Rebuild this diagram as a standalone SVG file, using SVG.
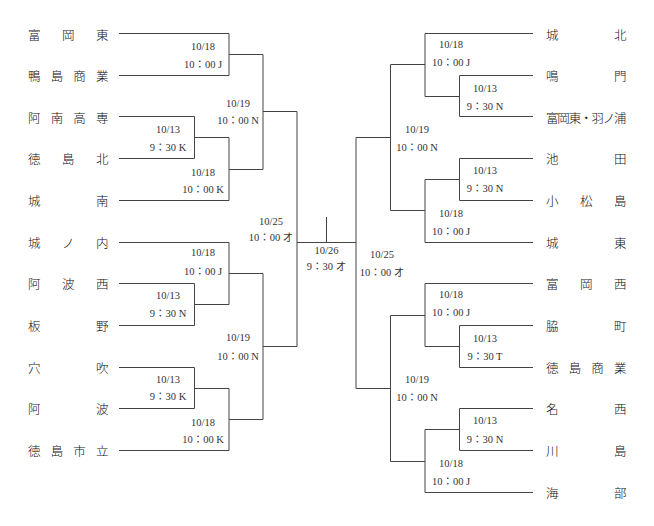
<svg xmlns="http://www.w3.org/2000/svg" width="654" height="526" viewBox="0 0 654 526">
<style>
.team{font-family:"Noto Sans CJK JP","Noto Sans CJK SC",sans-serif;font-size:12.5px;font-weight:300;fill:#111}
.lbl{font-family:"Liberation Serif","Noto Sans CJK JP",serif;font-size:10.5px;fill:#333;text-anchor:middle}
.wire{fill:none;stroke:#444;stroke-width:1}
</style>
<rect width="654" height="526" fill="#fff"/>
<g id="connectors" class="wire">
<path d="M119,33.5H229V75.5H119M229,54.5H263"/>
<path d="M119,116.5H194.5V158.5H119M194.5,137.5H229"/>
<path d="M119,200.5H229V137.5M229,169.5H263"/>
<path d="M263,54.5V169.5M263,111.5H297"/>
<path d="M119,242.5H229V304.5H194.5"/>
<path d="M119,283.5H194.5V325.5H119"/>
<path d="M229,273.5H263"/>
<path d="M119,367.5H194.5V408.5H119M194.5,388.5H229"/>
<path d="M119,450.5H229V388.5M229,419.5H263"/>
<path d="M263,273.5V419.5M263,346.5H297"/>
<path d="M297,111.5V346.5M297,242.5H356M326.5,217V242.5"/>
<path d="M533,75.5H459.5V116.5H533M459.5,96.5H425"/>
<path d="M533,33.5H425V96.5M425,64.5H390.5"/>
<path d="M533,158.5H459.5V200.5H533M459.5,179.5H425"/>
<path d="M533,242.5H425V179.5M425,210.5H390.5"/>
<path d="M390.5,64.5V210.5M390.5,137.5H356"/>
<path d="M533,325.5H459.5V367.5H533M459.5,346.5H425"/>
<path d="M533,283.5H425V346.5M425,315.5H390.5"/>
<path d="M533,408.5H459.5V450.5H533M459.5,429.5H425"/>
<path d="M533,492.5H425V429.5M425,461.5H390.5"/>
<path d="M390.5,315.5V461.5M390.5,388.5H356"/>
<path d="M356,137.5V388.5"/>
</g>
<g id="teams-left">
<g id="t-tomiokahigashi"><text class="team" x="28 62 96" y="39.5">富岡東</text></g>
<g id="t-kamojima"><text class="team" x="28 50.7 73.3 96" y="81">鴨島商業</text></g>
<g id="t-anankosen"><text class="team" x="28 50.7 73.3 96" y="122.5">阿南高専</text></g>
<g id="t-tokushimakita"><text class="team" x="28 62 96" y="164">徳島北</text></g>
<g id="t-jonan"><text class="team" x="28 96" y="206">城南</text></g>
<g id="t-jonouchi"><text class="team" x="28 62 96" y="247.5">城ノ内</text></g>
<g id="t-awanishi"><text class="team" x="28 62 96" y="289">阿波西</text></g>
<g id="t-itano"><text class="team" x="28 96" y="331">板野</text></g>
<g id="t-anabuki"><text class="team" x="28 96" y="372.5">穴吹</text></g>
<g id="t-awa"><text class="team" x="28 96" y="414">阿波</text></g>
<g id="t-shiritsu"><text class="team" x="28 50.7 73.3 96" y="456">徳島市立</text></g>
</g>
<g id="teams-right">
<g id="t-johoku"><text class="team" x="546 614" y="39.5">城北</text></g>
<g id="t-naruto"><text class="team" x="546 614" y="81">鳴門</text></g>
<g id="t-tomioka-hanoura"><text class="team" x="546 557.3 568.7 580 591.3 602.7 614" y="122.5">富岡東・羽ノ浦</text></g>
<g id="t-ikeda"><text class="team" x="546 614" y="164">池田</text></g>
<g id="t-komatsushima"><text class="team" x="546 580 614" y="206">小松島</text></g>
<g id="t-joto"><text class="team" x="546 614" y="247.5">城東</text></g>
<g id="t-tomiokanishi"><text class="team" x="546 580 614" y="289">富岡西</text></g>
<g id="t-wakimachi"><text class="team" x="546 614" y="331">脇町</text></g>
<g id="t-tokushoh"><text class="team" x="546 568.7 591.3 614" y="372.5">徳島商業</text></g>
<g id="t-myozai"><text class="team" x="546 614" y="414">名西</text></g>
<g id="t-kawashima"><text class="team" x="546 614" y="456">川島</text></g>
<g id="t-kaifu"><text class="team" x="546 614" y="497.5">海部</text></g>
</g>
<g id="match-labels">
<g id="m-l1"><text class="lbl" x="203" y="49.5">10/18</text><text class="lbl" x="203" y="67.5">10：00 J</text></g>
<g id="m-l2"><text class="lbl" x="168" y="133">10/13</text><text class="lbl" x="168" y="150.5">9：30 K</text></g>
<g id="m-l3"><text class="lbl" x="203" y="176">10/18</text><text class="lbl" x="203" y="193">10：00 K</text></g>
<g id="m-l4"><text class="lbl" x="238" y="107">10/19</text><text class="lbl" x="238" y="124">10：00 N</text></g>
<g id="m-l5"><text class="lbl" x="203" y="256">10/18</text><text class="lbl" x="203" y="274.5">10：00 J</text></g>
<g id="m-l6"><text class="lbl" x="168" y="299">10/13</text><text class="lbl" x="168" y="316.5">9：30 N</text></g>
<g id="m-l7"><text class="lbl" x="238" y="341">10/19</text><text class="lbl" x="238" y="359.5">10：00 N</text></g>
<g id="m-l8"><text class="lbl" x="168" y="383">10/13</text><text class="lbl" x="168" y="400">9：30 K</text></g>
<g id="m-l9"><text class="lbl" x="203" y="426">10/18</text><text class="lbl" x="203" y="443">10：00 K</text></g>
<g id="m-lsf"><text class="lbl" x="271" y="224.5">10/25</text><text class="lbl" x="271" y="241">10：00 オ</text></g>
<g id="m-final"><text class="lbl" x="326.5" y="253.5">10/26</text><text class="lbl" x="326.5" y="269.5">9：30 オ</text></g>
<g id="m-rsf"><text class="lbl" x="382" y="258">10/25</text><text class="lbl" x="382" y="275.5">10：00 オ</text></g>
<g id="m-r1"><text class="lbl" x="451" y="48">10/18</text><text class="lbl" x="451" y="65.5">10：00 J</text></g>
<g id="m-r2"><text class="lbl" x="485" y="91.5">10/13</text><text class="lbl" x="485" y="110">9：30 N</text></g>
<g id="m-r3"><text class="lbl" x="417" y="133">10/19</text><text class="lbl" x="417" y="150.5">10：00 N</text></g>
<g id="m-r4"><text class="lbl" x="485" y="174">10/13</text><text class="lbl" x="485" y="192">9：30 N</text></g>
<g id="m-r5"><text class="lbl" x="451" y="217">10/18</text><text class="lbl" x="451" y="235">10：00 J</text></g>
<g id="m-r6"><text class="lbl" x="451" y="298">10/18</text><text class="lbl" x="451" y="315.5">10：00 J</text></g>
<g id="m-r7"><text class="lbl" x="485" y="341.5">10/13</text><text class="lbl" x="485" y="359.5">9：30 T</text></g>
<g id="m-r8"><text class="lbl" x="417" y="383">10/19</text><text class="lbl" x="417" y="400.5">10：00 N</text></g>
<g id="m-r9"><text class="lbl" x="485" y="424">10/13</text><text class="lbl" x="485" y="442.5">9：30 N</text></g>
<g id="m-r10"><text class="lbl" x="451" y="466.5">10/18</text><text class="lbl" x="451" y="484.5">10：00 J</text></g>
</g>
</svg>
